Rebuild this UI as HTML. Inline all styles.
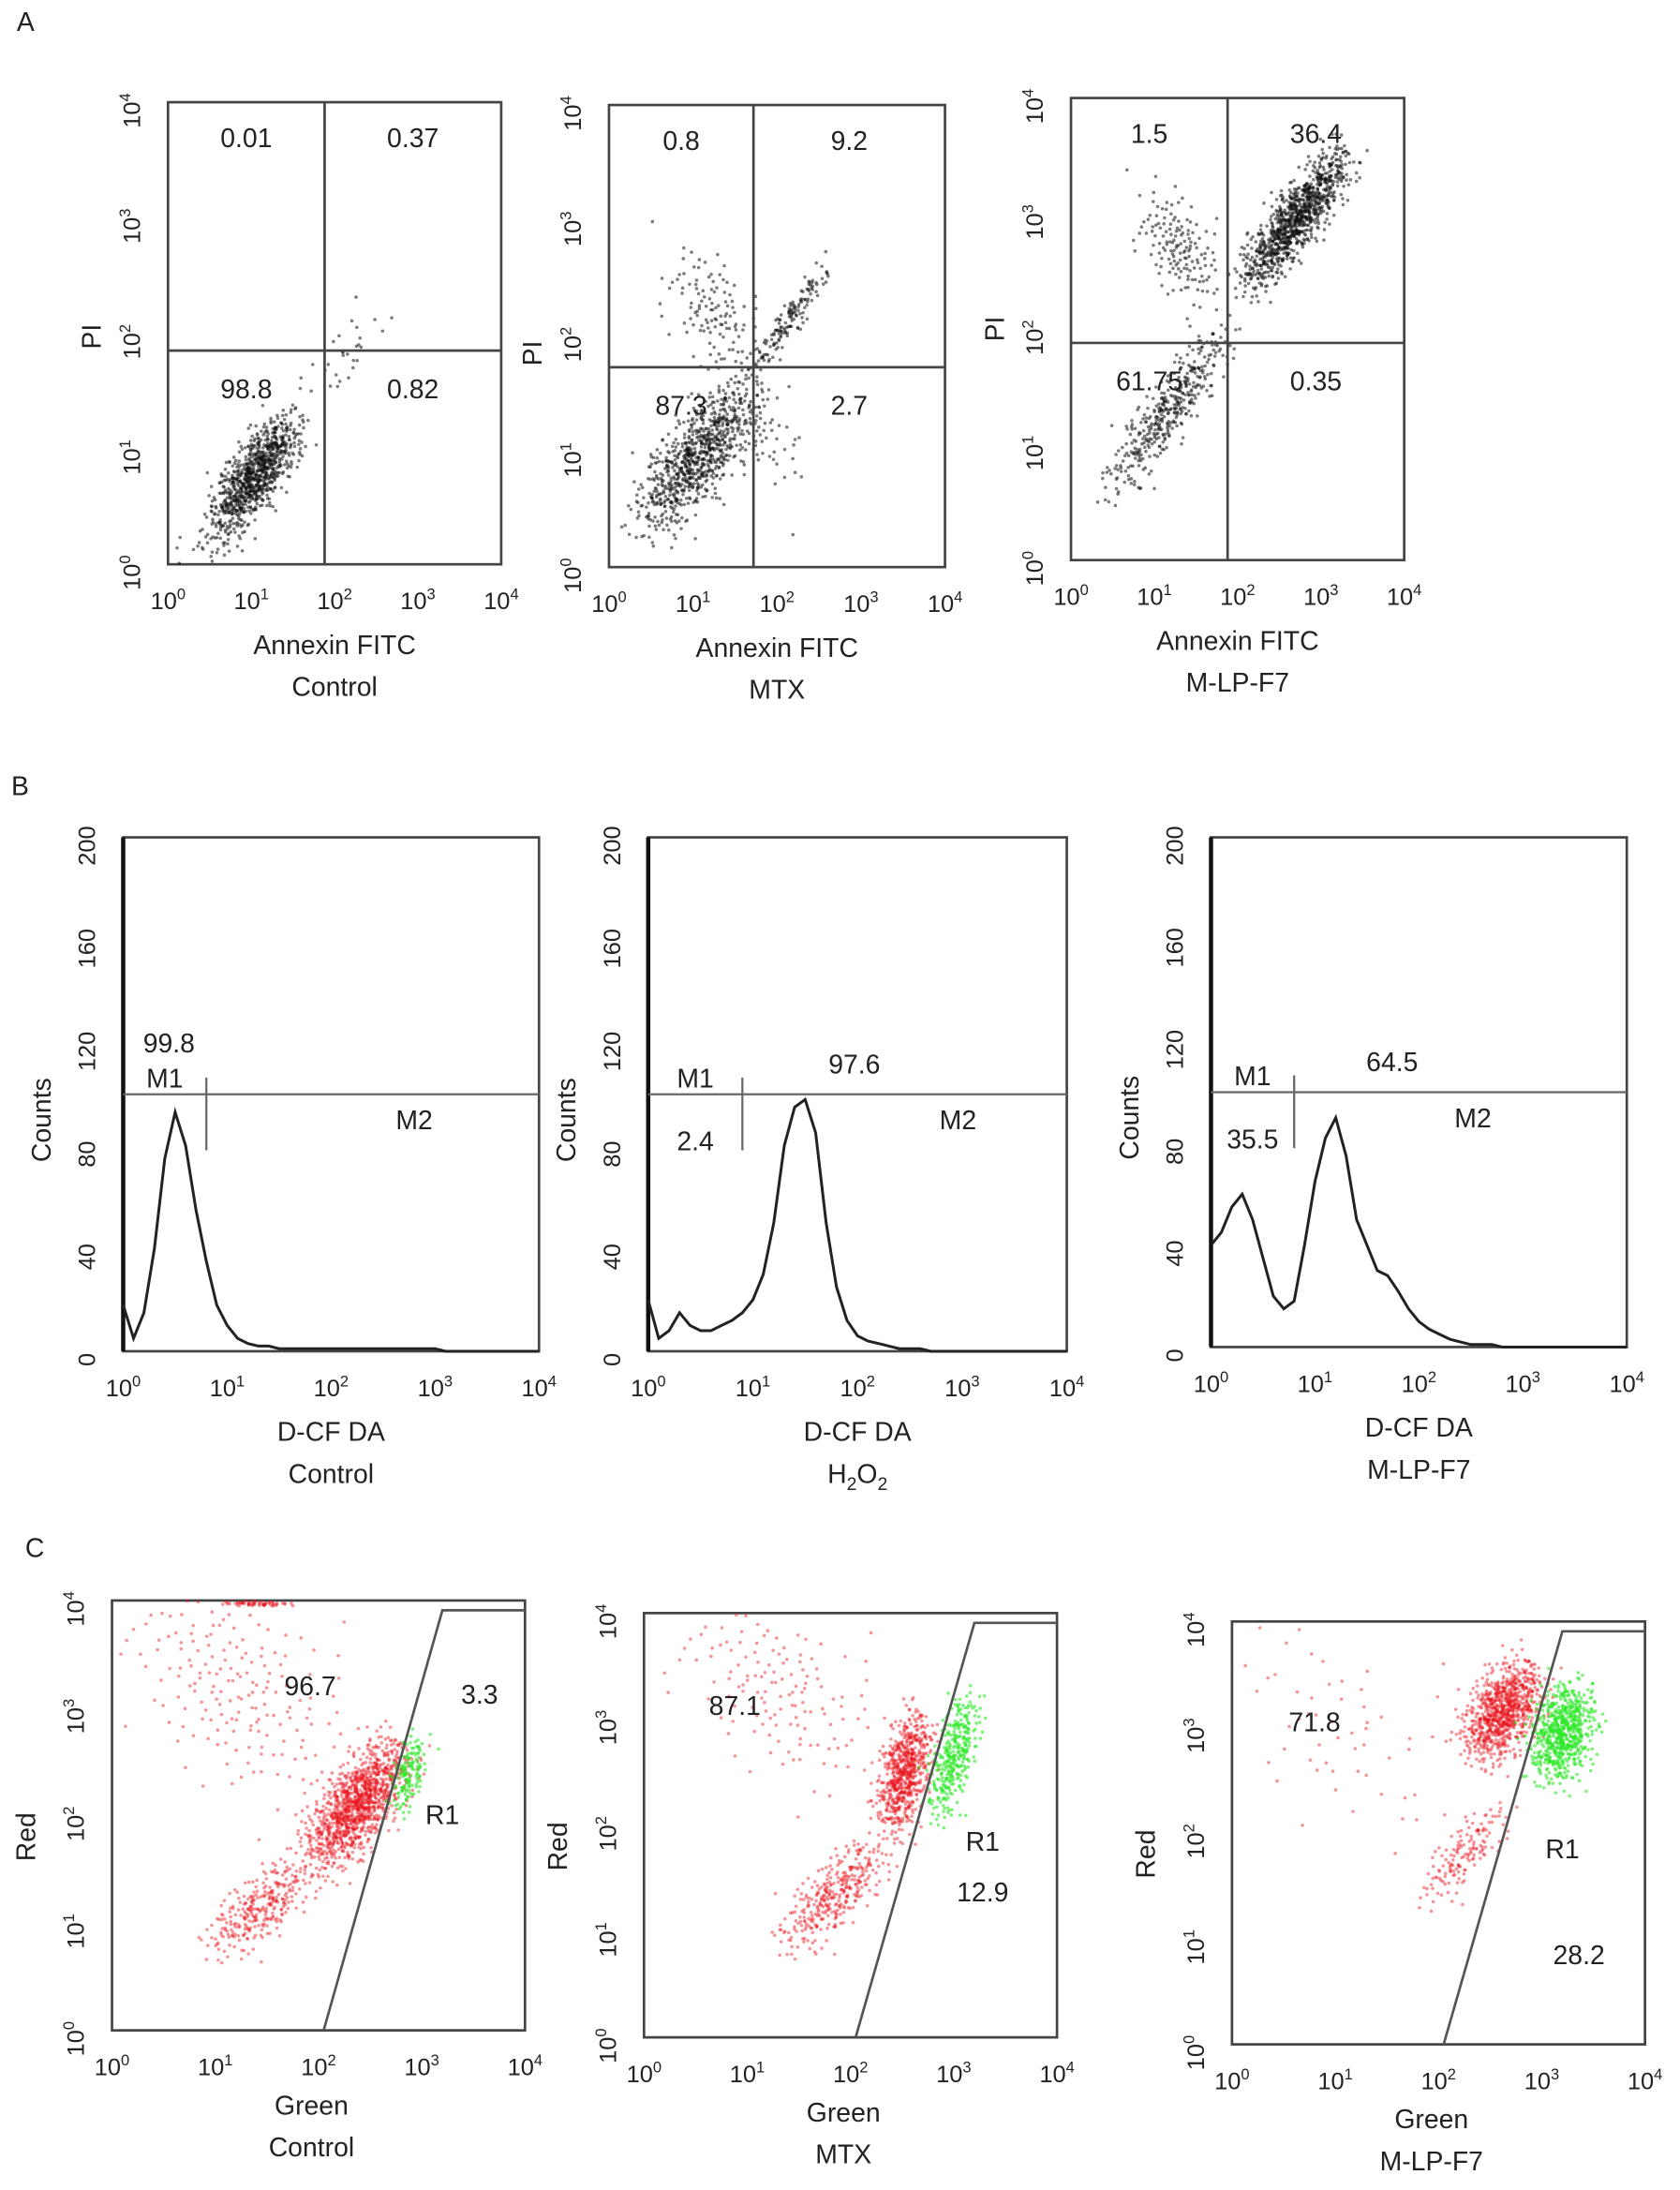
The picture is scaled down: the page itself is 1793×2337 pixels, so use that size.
<!DOCTYPE html>
<html><head><meta charset="utf-8">
<style>
html,body{margin:0;padding:0;background:#fff;}
svg{display:block;}
text{font-family:"Liberation Sans",sans-serif;fill:#222;}
</style></head>
<body>
<svg id="fig" width="1793" height="2337" viewBox="0 0 1200 1564" preserveAspectRatio="none" xmlns="http://www.w3.org/2000/svg">
<g id="root"></g>
</svg>
<script>
// ---------- data ----------
const decadeTicks = [0,1,2,3,4];
const countTicks = [0,40,80,120,160,200];
// Panel A: quadrant values [UL, UR, LL, LR]
const quadA1 = ["0.01","0.37","98.8","0.82"];
const quadA2 = ["0.8","9.2","87.3","2.7"];
const quadA3 = ["1.5","36.4","61.75","0.35"];
// Panel A clusters: [x0,y0,x1,y1,spread,count] in log units
const clustA1 = [[0.5,0.25,1.6,1.3,0.13,900],[1.5,1.4,2.7,2.2,0.12,30],[0.1,0.05,0.9,0.25,0.1,25]];
const clustA2 = [[0.3,0.3,1.8,1.6,0.17,800],[1.6,1.6,2.7,2.7,0.06,150],[1.25,2.2,1.25,2.2,0.35,120],[1.8,1.2,1.8,1.2,0.35,60]];
const clustA3 = [[0.35,0.5,2.0,2.1,0.12,400],[2.0,2.3,3.4,3.6,0.12,1000],[1.3,2.7,1.3,2.7,0.3,150]];
// Panel B histograms: counts at log steps of 0.1 from 0 to 4
const histB1 = [18,5,15,40,75,93,80,55,35,18,10,5,3,2,2,1,1,1,1,1,1,1,1,1,1,1,1,1,1,1,1,0,0,0,0,0,0,0,0,0,0];
const histB2 = [20,5,8,15,10,8,8,10,12,15,20,30,50,80,95,98,85,50,25,12,6,4,3,2,1,1,1,0,0,0,0,0,0,0,0,0,0,0,0,0,0];
const histB3 = [40,45,55,60,50,35,20,15,18,40,65,82,90,75,50,40,30,28,22,15,10,7,5,3,2,1,1,1,0,0,0,0,0,0,0,0,0,0,0,0,0];
const markB1 = [0.8,"99.8","M1","M2"];
const markB2 = [0.9,"97.6","2.4","M2"];
const markB3 = [0.8,"64.5","35.5","M2"];
// Panel C clusters [x0,y0,x1,y1,spread,count]
const clustC1r = [[0.9,0.7,2.0,1.6,0.13,300],[1.9,1.5,2.85,2.7,0.15,1200],[1.2,3.2,1.2,3.2,0.7,200],[1.0,3.97,1.8,3.97,0.015,60]];
const clustC1g = [[2.75,2.0,3.0,2.8,0.08,150]];
const clustC2r = [[1.3,0.8,2.4,1.9,0.13,350],[2.35,1.9,2.7,3.1,0.12,700],[1.3,3.3,1.3,3.3,0.6,150]];
const clustC2g = [[2.8,2.0,3.2,3.3,0.1,350]];
const clustC3r = [[1.8,1.3,2.7,2.3,0.1,150],[2.3,2.7,2.95,3.6,0.15,900],[1.0,3.0,1.0,3.0,0.7,60]];
const clustC3g = [[3.0,2.5,3.4,3.4,0.15,700]];
const gateC = [[2.05,0],[3.2,4],[4,4]];
</script>
<script>
const NS="http://www.w3.org/2000/svg";
const root=document.getElementById('root');
function mk(tag,attrs,parent){const e=document.createElementNS(NS,tag);for(const k in attrs)e.setAttribute(k,attrs[k]);(parent||root).appendChild(e);return e;}
function halton(i,b){let f=1,r=0;while(i>0){f/=b;r+=f*(i%b);i=Math.floor(i/b);}return r;}
function txt(x,y,s,size,parent,anchor,rot){const t=mk('text',{x:x,y:y,'font-size':size,'text-anchor':anchor||'middle'},parent);if(rot)t.setAttribute('transform','rotate(-90 '+x+' '+y+')');t.textContent=s;return t;}
function pow10(x,y,k,size,parent,rot){const t=mk('text',{x:x,y:y,'font-size':size,'text-anchor':'middle'},parent);if(rot)t.setAttribute('transform','rotate(-90 '+x+' '+y+')');t.appendChild(document.createTextNode('10'));const s=mk('tspan',{dy:-7,'font-size':size*0.65},t);s.textContent=k;return t;}
function makeAxes(g,b){
  const box=mk('rect',{x:b.x,y:b.y,width:b.w,height:b.h,fill:'none',stroke:'#444','stroke-width':1.8},g);
  
  const sx=v=>b.x+v/4*b.w, sy=v=>b.y+b.h-v/4*b.h;
  decadeTicks.forEach(k=>{const t=pow10(sx(k),b.y+b.h+32,k,17,g);});
  return {sx,sy};
}
function logYTicks(g,b,sy){decadeTicks.forEach(k=>{const t=pow10(b.x-20,sy(k)+6,k,17,g,true);});}
function scatter(g,clusters,sx,sy,color,op,seed){
  clusters.forEach((c,ci)=>{for(let i=1;i<=c[5];i++){const n=i+seed+ci*977;
    const u1=halton(n,2),u2=Math.max(halton(n,3),1e-4),u3=halton(n,5);
    const t=(u1+halton(n,7))/2;
    const o=Math.sqrt(-2*Math.log(u2))*Math.cos(2*Math.PI*u3)*c[4];
    const o2=Math.sqrt(-2*Math.log(u2))*Math.sin(2*Math.PI*u3)*c[4]*0.4;
    const lx=c[0]+(c[2]-c[0])*t-o*0.7+o2,ly=c[1]+(c[3]-c[1])*t+o*0.7+o2;
    if(lx<0||lx>4||ly<0||ly>4)continue;
    const p=mk('circle',{cx:sx(lx),cy:sy(ly),r:1.2,fill:color,'fill-opacity':op},g);
    }});
}
[['A',12,22],['B',8,568],['C',18,1112]].forEach(p=>{const t=txt(p[1],p[2],p[0],19,root,'start');});

// ---- Panel A ----
const A=[{b:{x:120,y:73,w:238,h:330},q:quadA1,c:clustA1,qx:1.88,qy:1.85,name:'Control'},
         {b:{x:435,y:75,w:240,h:330},q:quadA2,c:clustA2,qx:1.72,qy:1.73,name:'MTX'},
         {b:{x:765,y:70,w:238,h:330},q:quadA3,c:clustA3,qx:1.88,qy:1.88,name:'M-LP-F7'}];
A.forEach((p,i)=>{const g=mk('g',{});
  const {sx,sy}=makeAxes(g,p.b);logYTicks(g,p.b,sy);
  scatter(g,p.c,sx,sy,'#111',0.55,i*31);
  mk('line',{x1:sx(p.qx),x2:sx(p.qx),y1:p.b.y,y2:p.b.y+p.b.h,stroke:'#444','stroke-width':1.8},g);
  mk('line',{y1:sy(p.qy),y2:sy(p.qy),x1:p.b.x,x2:p.b.x+p.b.w,stroke:'#444','stroke-width':1.8},g);
  const L=[[ (p.b.x+sx(p.qx))/2, p.b.y+32],[ (sx(p.qx)+p.b.x+p.b.w)/2, p.b.y+32],[(p.b.x+sx(p.qx))/2, sy(p.qy)+34],[(sx(p.qx)+p.b.x+p.b.w)/2, sy(p.qy)+34]];
  L.forEach((l,j)=>{const t=txt(l[0],l[1],p.q[j],19,g);});
  let t=txt(p.b.x-48,sy(p.qy)-10,'PI',19,g,'middle',true);
  t=txt(p.b.x+p.b.w/2,p.b.y+p.b.h+64,'Annexin FITC',19,g);
  t=txt(p.b.x+p.b.w/2,p.b.y+p.b.h+94,p.name,19,g);
});

// ---- Panel B ----
const B=[{b:{x:88,y:598,w:297,h:367},h:histB1,m:markB1,name:'Control'},
         {b:{x:463,y:598,w:299,h:367},h:histB2,m:markB2,name:'H2O2'},
         {b:{x:865,y:598,w:297,h:364},h:histB3,m:markB3,name:'M-LP-F7'}];
B.forEach((p,i)=>{const g=mk('g',{});
  const b=p.b;const {sx}=makeAxes(g,b);const cy=v=>b.y+b.h-v/200*b.h;
  countTicks.forEach(v=>{const t=txt(b.x-20,cy(v)+6,String(v),17,g,'middle',true);});
  mk('line',{x1:b.x,x2:b.x,y1:b.y,y2:b.y+b.h,stroke:'#111','stroke-width':3},g);
  const pts=p.h.map((v,k)=>sx(k*0.1).toFixed(1)+','+cy(v).toFixed(1)).join(' ');
  const pl=mk('polyline',{points:pts,fill:'none',stroke:'#222','stroke-width':2},g);
  const my=cy(100),mx=sx(p.m[0]);
  mk('line',{x1:b.x,x2:b.x+b.w,y1:my,y2:my,stroke:'#666','stroke-width':1.5},g);
  mk('line',{x1:mx,x2:mx,y1:my-12,y2:my+40,stroke:'#666','stroke-width':1.5},g);
  const labs=i===0?[[ (b.x+mx)/2+3,my-30,p.m[1]],[(b.x+mx)/2,my-5,'M1'],[b.x+b.w*0.7,my+25,'M2']]
    :[[ (b.x+mx)/2,my-5,'M1'],[(b.x+mx)/2,my+40,p.m[2]],[mx+(i===1?80:70),my-15,p.m[1]],[b.x+b.w*(i===1?0.74:0.63),my+25,'M2']];
  labs.forEach(l=>{const t=txt(l[0],l[1],l[2],19,g);});
  let t=txt(b.x-52,b.y+b.h*0.55,'Counts',19,g,'middle',true);
  t=txt(b.x+b.w/2,b.y+b.h+64,'D-CF DA',19,g);
  if(p.name==='H2O2'){t=mk('text',{x:b.x+b.w/2,y:b.y+b.h+94,'font-size':19,'text-anchor':'middle'},g);t.appendChild(document.createTextNode('H'));let s=mk('tspan',{dy:5,'font-size':13},t);s.textContent='2';s=mk('tspan',{dy:-5},t);s.textContent='O';s=mk('tspan',{dy:5,'font-size':13},t);s.textContent='2';}
  else t=txt(b.x+b.w/2,b.y+b.h+94,p.name,19,g);
  
});

// ---- Panel C ----
const C=[{b:{x:80,y:1143,w:295,h:307},r:clustC1r,gr:clustC1g,v:['96.7','3.3'],lp:[[0.48,0.22],[0.89,0.24],[0.8,0.52]],name:'Control'},
         {b:{x:460,y:1152,w:295,h:303},r:clustC2r,gr:clustC2g,v:['87.1','12.9'],lp:[[0.22,0.24],[0.82,0.68],[0.82,0.56]],name:'MTX'},
         {b:{x:880,y:1158,w:295,h:302},r:clustC3r,gr:clustC3g,v:['71.8','28.2'],lp:[[0.2,0.26],[0.84,0.81],[0.8,0.56]],name:'M-LP-F7'}];
C.forEach((p,i)=>{const g=mk('g',{});
  const b=p.b;const {sx,sy}=makeAxes(g,b);logYTicks(g,b,sy);
  scatter(g,p.r,sx,sy,'#e8141c',0.45,i*53);
  scatter(g,p.gr,sx,sy,'#2ee82a',0.6,i*71+7);
  const gp=mk('polyline',{points:gateC.map(q=>sx(q[0])+','+(sy(q[1])+(q[1]===4?7:0))).join(' '),fill:'none',stroke:'#555','stroke-width':1.8},g);
  
  [[p.lp[0],p.v[0]],[p.lp[1],p.v[1]],[p.lp[2],'R1']].forEach(l=>{const t=txt(b.x+l[0][0]*b.w,b.y+l[0][1]*b.h,l[1],19,g);});
  let t=txt(b.x-55,b.y+b.h*0.55,'Red',19,g,'middle',true);
  t=txt(b.x+b.w/2-5,b.y+b.h+60,'Green',19,g);
  t=txt(b.x+b.w/2-5,b.y+b.h+90,p.name,19,g);
});
</script>
</body></html>
